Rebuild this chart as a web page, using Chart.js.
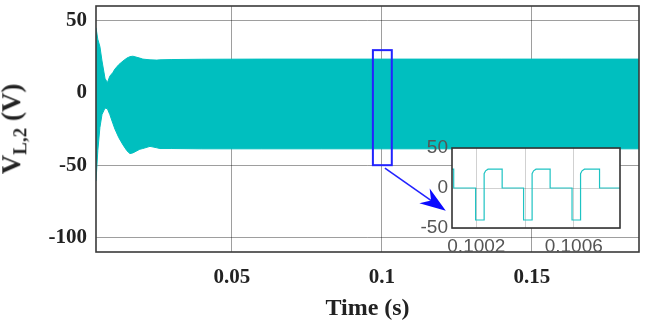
<!DOCTYPE html>
<html>
<head>
<meta charset="utf-8">
<script src="https://cdn.jsdelivr.net/npm/chart.js@4.4.1/dist/chart.umd.min.js"></script>
<style>
  body { margin: 0; background: #fff; }
  #wrap { position: relative; width: 653px; height: 328px; }
  #mainChart { position: absolute; left: 0; top: 0; }
  #insetChart { position: absolute; left: 410px; top: 134px; }
  #yTitle {
    position: absolute; left: 14px; top: 129px;
    transform: translate(-50%, -50%) rotate(-90deg);
    font: bold 27px 'Liberation Serif', serif; color: #222; white-space: nowrap;
  }
  #yTitle sub { font-size: 19px; }
</style>
</head>
<body>
<div id="wrap">
  <canvas id="mainChart" width="653" height="328"></canvas>
  <canvas id="insetChart" width="232" height="130"></canvas>
  <div id="yTitle">V<sub>L,2</sub> (V)</div>
</div>
<script>
// envelope of the dense 5 kHz waveform (time in s, volts)
const envTime  = [0.0047, 0.0053, 0.006, 0.0067, 0.0077, 0.0085, 0.0093, 0.0103, 0.011, 0.0123, 0.0137, 0.015, 0.016, 0.017, 0.0193, 0.0203, 0.0227, 0.025, 0.026, 0.03, 0.04, 0.06, 0.08, 0.1, 0.12, 0.14, 0.16, 0.1857];
const envUpper = [45, 37, 32, 22, 10, 7, 11.5, 14, 16.4, 19.5, 22, 24, 25, 25.3, 24, 23.3, 22.8, 22.6, 22.8, 23, 23.2, 23.3, 23.3, 23.3, 23.3, 23.3, 23.3, 23.3];
const envLower = [-61, -40, -24, -15, -10.5, -11, -15, -21, -25, -31, -36, -40, -42, -41.5, -39, -38.5, -37, -38, -38.5, -38.5, -38.7, -38.7, -38.7, -38.7, -38.7, -38.7, -38.7, -38.7];

const xTicks = [0.05, 0.1, 0.15];
const xTickLabels = ['0.05', '0.1', '0.15'];
const yTicks = [-100, -50, 0, 50];
const yTickLabels = ['-100', '-50', '0', '50'];

// zoom marker (blue box) and arrow, in data units
const zoomBox = { x0: 0.097, x1: 0.1033, y0: -50, y1: 29.5 };
const arrowFrom = { x: 0.101, y: -52 };
const arrowTo = { x: 0.1213, y: -81.5 };

// inset: a few periods of the waveform around t = 0.1004 s
const insetTime = [0.1001, 0.100107, 0.100107, 0.100197, 0.100197, 0.100232, 0.100232, 0.100238, 0.100248, 0.100306, 0.100306, 0.100394, 0.100394, 0.100429, 0.100429, 0.100435, 0.100445, 0.100503, 0.100503, 0.100593, 0.100593, 0.100628, 0.100628, 0.100634, 0.100644, 0.100706, 0.100706, 0.10079];
const insetVolt = [23.5, 23.5, 0, 0, -40, -40, 18, 21.5, 23.5, 23.5, 0, 0, -40, -40, 18, 21.5, 23.5, 23.5, 0, 0, -40, -40, 18, 21.5, 23.5, 23.5, 0, 0];
const insetXTicks = [0.1002, 0.1004, 0.1006];
const insetXTickLabels = ['0.1002', '', '0.1006'];
const insetYTicks = [-50, 0, 50];
const insetYTickLabels = ['-50', '0', '50'];

const CYAN = 'rgb(0,191,191)';
const BLUE = 'rgb(35,35,255)';

// box around the plot area
const frameBox = {
  id: 'frameBox',
  beforeDraw(chart, args, opts) {
    if (!opts.fill) return;
    const a = chart.chartArea;
    chart.ctx.save();
    chart.ctx.fillStyle = opts.fill;
    chart.ctx.fillRect(a.left, a.top, a.right - a.left, a.bottom - a.top);
    chart.ctx.restore();
  },
  afterDraw(chart, args, opts) {
    const { ctx, chartArea: a } = chart;
    ctx.save();
    ctx.strokeStyle = opts.color;
    ctx.lineWidth = opts.width;
    ctx.strokeRect(a.left, a.top, a.right - a.left, a.bottom - a.top);
    ctx.restore();
  }
};

// blue zoom rectangle + arrow pointing to the inset
const zoomMarker = {
  id: 'zoomMarker',
  afterDatasetsDraw(chart) {
    const { ctx, scales: { x, y } } = chart;
    ctx.save();
    ctx.strokeStyle = BLUE;
    ctx.lineWidth = 2;
    const l = x.getPixelForValue(zoomBox.x0), r = x.getPixelForValue(zoomBox.x1);
    const t = y.getPixelForValue(zoomBox.y1), b = y.getPixelForValue(zoomBox.y0);
    ctx.strokeRect(l, t, r - l, b - t);

    const sx = x.getPixelForValue(arrowFrom.x), sy = y.getPixelForValue(arrowFrom.y);
    const ex = x.getPixelForValue(arrowTo.x), ey = y.getPixelForValue(arrowTo.y);
    const len = Math.hypot(ex - sx, ey - sy);
    const ux = (ex - sx) / len, uy = (ey - sy) / len;
    const nx = -uy, ny = ux;
    ctx.lineWidth = 1.6;
    ctx.beginPath();
    ctx.moveTo(sx, sy);
    ctx.lineTo(ex - ux * 16, ey - uy * 16);
    ctx.stroke();
    // head, MATLAB style with a notch at the back
    ctx.fillStyle = 'rgb(10,10,255)';
    ctx.beginPath();
    ctx.moveTo(ex, ey);
    ctx.lineTo(ex - ux * 26 + nx * 9, ey - uy * 26 + ny * 9);
    ctx.lineTo(ex - ux * 18, ey - uy * 18);
    ctx.lineTo(ex - ux * 26 - nx * 9, ey - uy * 26 - ny * 9);
    ctx.closePath();
    ctx.fill();
    ctx.restore();
  }
};

// no extra room for edge labels, the plot box is placed by hand
const noEdgePad = s => { s.paddingTop = 0; s.paddingBottom = 0; s.paddingLeft = 0; s.paddingRight = 0; };

const serifBold = { family: "'Liberation Serif', serif", size: 21, weight: 'bold' };

new Chart(document.getElementById('mainChart'), {
  type: 'line',
  data: {
    datasets: [
      {
        data: envTime.map((t, i) => ({ x: t, y: envUpper[i] })),
        borderColor: CYAN, backgroundColor: CYAN, borderWidth: 1,
        pointRadius: 0, fill: '+1', tension: 0
      },
      {
        data: envTime.map((t, i) => ({ x: t, y: envLower[i] })),
        borderColor: CYAN, borderWidth: 1,
        pointRadius: 0, fill: false, tension: 0
      }
    ]
  },
  options: {
    responsive: false,
    animation: false,
    layout: { padding: { left: 0, top: 6, right: 14, bottom: 0 } },
    plugins: {
      legend: { display: false },
      tooltip: { enabled: false },
      frameBox: { color: '#3a3a3a', width: 1.6 }
    },
    scales: {
      x: {
        type: 'linear', min: 0.0047, max: 0.1857,
        afterFit: s => { s.height = 76; noEdgePad(s); },
        afterBuildTicks: s => { s.ticks = xTicks.map(v => ({ value: v })); },
        grid: { color: 'rgba(0,0,0,0.38)', lineWidth: 1, drawTicks: false },
        border: { display: false },
        ticks: {
          autoSkip: false, maxRotation: 0, padding: 13, color: '#222', font: serifBold,
          callback: (v, i) => xTickLabels[i]
        },
        title: {
          display: true, text: 'Time (s)', color: '#222',
          font: { family: "'Liberation Serif', serif", size: 24, weight: 'bold' },
          padding: { top: 0, bottom: 5 }
        }
      },
      y: {
        type: 'linear', min: -110, max: 60,
        afterFit: s => { s.width = 96; noEdgePad(s); },
        afterBuildTicks: s => { s.ticks = yTicks.map(v => ({ value: v })); },
        grid: { color: 'rgba(0,0,0,0.38)', lineWidth: 1, drawTicks: false },
        border: { display: false },
        ticks: {
          padding: 9, color: '#222', font: serifBold,
          callback: (v, i) => yTickLabels[i]
        }
      }
    }
  },
  plugins: [frameBox, zoomMarker]
});

const sansThin = { family: "'Liberation Sans', Arial, sans-serif", size: 19 };

new Chart(document.getElementById('insetChart'), {
  type: 'line',
  data: {
    datasets: [{
      data: insetTime.map((t, i) => ({ x: t, y: insetVolt[i] })),
      borderColor: 'rgb(30,195,195)', borderWidth: 1.2,
      pointRadius: 0, fill: false, tension: 0
    }]
  },
  options: {
    responsive: false,
    animation: false,
    layout: { padding: { left: 0, top: 14, right: 22, bottom: 0 } },
    plugins: {
      legend: { display: false },
      tooltip: { enabled: false },
      frameBox: { color: '#333', width: 1.6, fill: '#fff' }
    },
    scales: {
      x: {
        type: 'linear', min: 0.1001, max: 0.10079,
        afterFit: s => { s.height = 36; noEdgePad(s); },
        afterBuildTicks: s => { s.ticks = insetXTicks.map(v => ({ value: v })); },
        grid: { color: 'rgba(0,0,0,0.18)', lineWidth: 1, drawTicks: false },
        border: { display: false },
        ticks: {
          autoSkip: false, maxRotation: 0, padding: 7, color: '#555', font: sansThin,
          callback: (v, i) => insetXTickLabels[i]
        }
      },
      y: {
        type: 'linear', min: -50, max: 50,
        afterFit: s => { s.width = 42; noEdgePad(s); },
        afterBuildTicks: s => { s.ticks = insetYTicks.map(v => ({ value: v })); },
        grid: { color: 'rgba(0,0,0,0.18)', lineWidth: 1, drawTicks: false },
        border: { display: false },
        ticks: {
          padding: 4, color: '#555', font: sansThin,
          callback: (v, i) => insetYTickLabels[i]
        }
      }
    }
  },
  plugins: [frameBox]
});
</script>
</body>
</html>
